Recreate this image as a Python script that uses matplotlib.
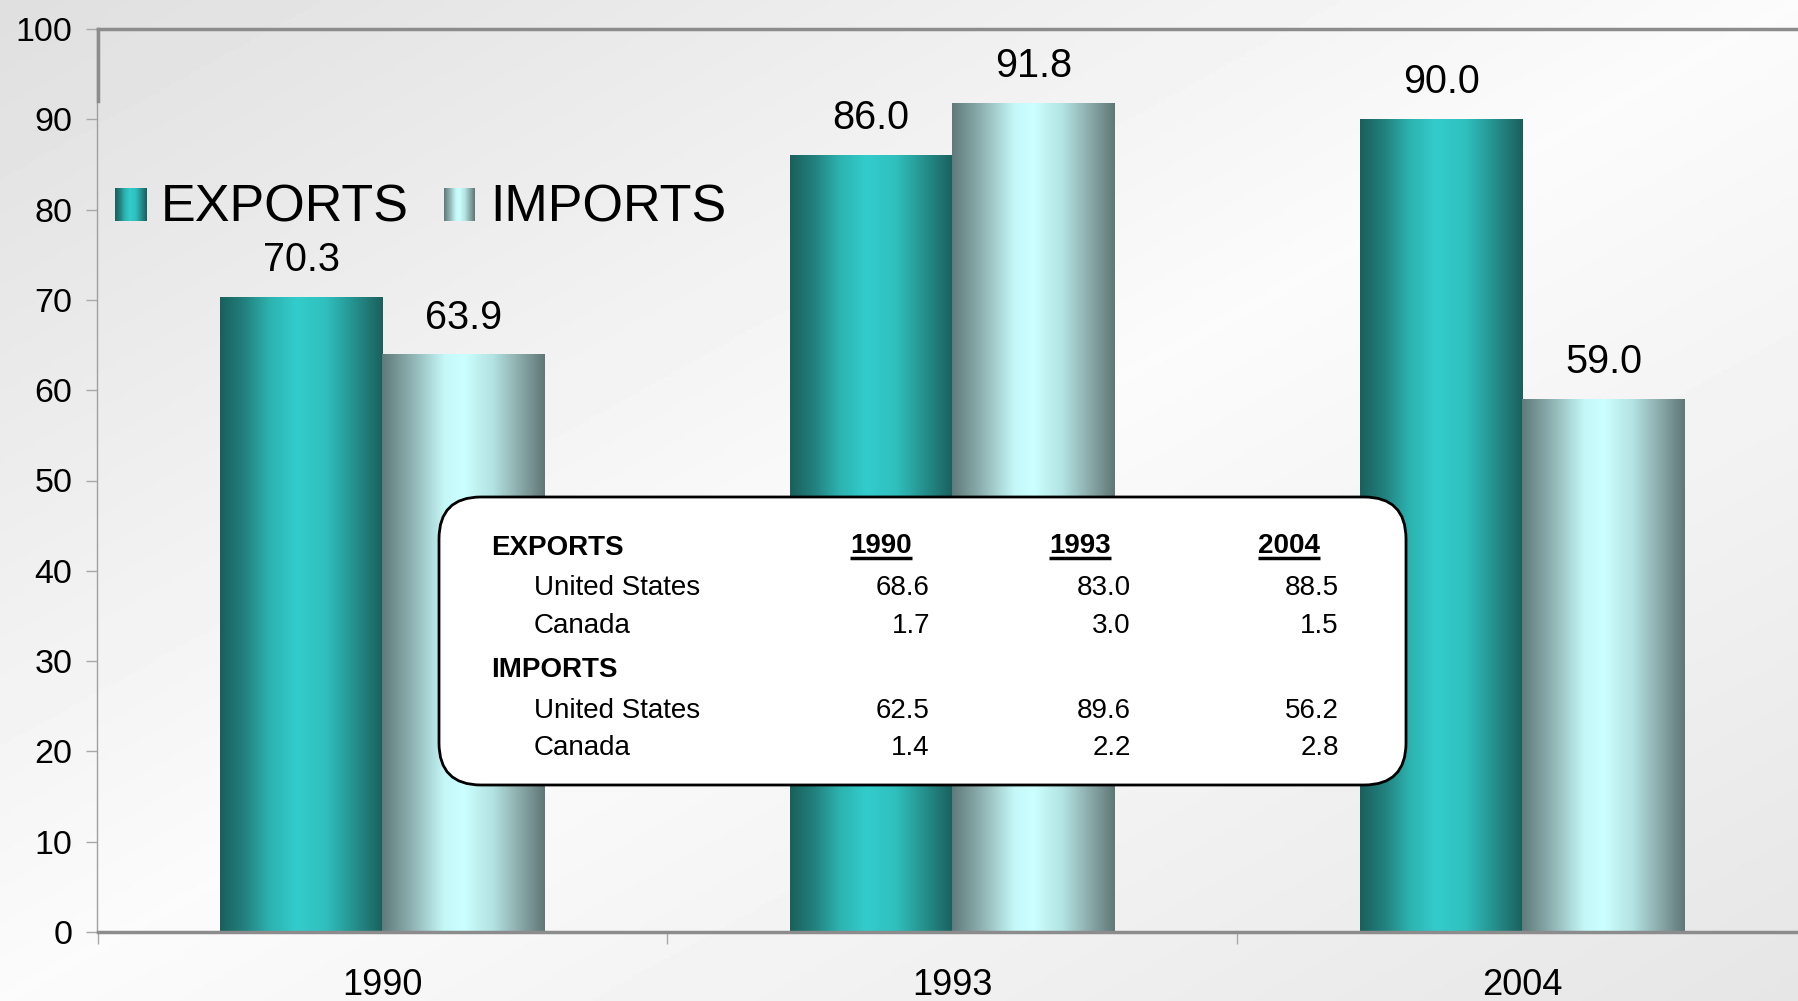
"""Exports vs imports (1990 / 1993 / 2004) as shaded bars, with a country breakdown table."""
import matplotlib
matplotlib.use("Agg")
import matplotlib.pyplot as plt
import numpy as np
from matplotlib import font_manager
from matplotlib.colors import LinearSegmentedColormap
from matplotlib.patches import FancyBboxPatch

YEARS = ["1990", "1993", "2004"]
EXPORTS = [70.3, 86.0, 90.0]
IMPORTS = [63.9, 91.8, 59.0]
Y_TICKS = [0, 10, 20, 30, 40, 50, 60, 70, 80, 90, 100]

# breakdown table
EXP_US = [68.6, 83.0, 88.5]
EXP_CA = [1.7, 3.0, 1.5]
IMP_US = [62.5, 89.6, 56.2]
IMP_CA = [1.4, 2.2, 2.8]

W, H = 1799, 1001

EXP_CMAP = LinearSegmentedColormap.from_list("exp", [
    (0.0, "#19605c"), (0.15, "#22817e"), (0.3, "#2cb2af"), (0.47, "#33cccc"),
    (0.65, "#2fc0be"), (0.82, "#25928f"), (1.0, "#1a605d")])
IMP_CMAP = LinearSegmentedColormap.from_list("imp", [
    (0.0, "#5f7a7a"), (0.18, "#8fb1b1"), (0.38, "#c4f7f7"), (0.5, "#ccffff"),
    (0.68, "#b3e3e3"), (0.85, "#8aa9a9"), (1.0, "#5f7777")])


def pick_table_font():
    names = {f.name for f in font_manager.fontManager.ttflist}
    if "Liberation Sans Narrow" in names:
        return "Liberation Sans Narrow", 24
    return "Liberation Sans", 20


def shade(ax, bars, cmap, zorder=2):
    grad = np.linspace(0, 1, 256)[np.newaxis, :]
    for b in bars:
        x0, h = b.get_x(), b.get_height()
        ax.imshow(grad, cmap=cmap, aspect="auto", zorder=zorder,
                  extent=[x0, x0 + b.get_width(), 0, h])


def main() -> None:
    plt.rcParams["font.family"] = ["Liberation Sans", "DejaVu Sans"]
    fig = plt.figure(figsize=(W / 100, H / 100), dpi=100)

    # ---- diagonal grey background ----
    bg = fig.add_axes([0, 0, 1, 1], zorder=-10)
    yy, xx = np.mgrid[0:1:300j, 0:1:540j]
    t = (xx + yy) / 2
    v = np.where(t < 0.5, 0.875 + 0.11 * (2 * t), 0.985 - 0.085 * (2 * t - 1))
    bg.imshow(v, cmap="gray", vmin=0, vmax=1, aspect="auto", extent=[0, 1, 0, 1])
    bg.axis("off")

    # ---- bars ----
    ax = fig.add_axes([97.5 / W, 69 / H, 1710 / W, 903 / H])
    ax.set_facecolor("none")
    x = np.arange(len(YEARS))
    w = 1 / 3.5
    ex_bars = ax.bar(x - w / 2, EXPORTS, w, color="none", zorder=2)
    im_bars = ax.bar(x + w / 2, IMPORTS, w, color="none", zorder=2)
    shade(ax, ex_bars, EXP_CMAP)
    shade(ax, im_bars, IMP_CMAP)
    for bars in (ex_bars, im_bars):
        for b in bars:
            ax.annotate(f"{b.get_height():.1f}", (b.get_x() + b.get_width() / 2, b.get_height()),
                        xytext=(0, 18.7), textcoords="offset points",
                        ha="center", va="baseline", fontsize=28.5)

    ax.set_xlim(-0.5, 2.5)
    ax.set_ylim(0, 100)
    ax.set_yticks(Y_TICKS)
    ax.tick_params(axis="y", length=8, width=1, color="#a8a8a8", pad=10, labelsize=24.5)
    ax.set_xticks(x, YEARS)
    ax.set_xticks([-0.5, 0.5, 1.5, 2.5], minor=True)
    ax.tick_params(axis="x", which="major", length=0, pad=26, labelsize=26)
    ax.tick_params(axis="x", which="minor", length=8.6, width=1, color="#a8a8a8")
    ax.spines["right"].set_visible(False)
    ax.spines["left"].set_color("#a0a0a0")
    ax.spines["left"].set_linewidth(1)
    for s in ("top", "bottom"):
        ax.spines[s].set_color("#8c8c8c")
        ax.spines[s].set_linewidth(2.5)
    ax.plot([-0.5, -0.5], [92, 100], color="#8c8c8c", lw=2.5, clip_on=False, zorder=3)

    # ---- overlay in pixel coords: legend + table ----
    ov = fig.add_axes([0, 0, 1, 1], zorder=5)
    ov.set_facecolor("none")
    ov.axis("off")
    grad = np.linspace(0, 1, 64)[np.newaxis, :]
    ov.imshow(grad, cmap=EXP_CMAP, aspect="auto", extent=[115, 147, 221, 188])
    ov.imshow(grad, cmap=IMP_CMAP, aspect="auto", extent=[444, 475, 221, 188])
    ov.set_xlim(0, W)
    ov.set_ylim(H, 0)
    ov.text(161, 222, "EXPORTS", fontsize=37.5, va="baseline")
    ov.text(490, 222, "IMPORTS", fontsize=37.5, va="baseline")

    ov.add_patch(FancyBboxPatch((439, 497), 1406 - 439, 785 - 497,
                                boxstyle="round,pad=0,rounding_size=42",
                                fc="white", ec="black", lw=2))
    fam, fs = pick_table_font()
    head_x = [881, 1080, 1289]
    val_x = [930, 1131, 1339]
    ov.text(491, 555, "EXPORTS", family=fam, fontsize=fs, weight="bold", va="baseline")
    ov.text(491, 677, "IMPORTS", family=fam, fontsize=fs, weight="bold", va="baseline")
    heads = [ov.text(hx, 553, yr, family=fam, fontsize=fs, weight="bold",
                     ha="center", va="baseline") for hx, yr in zip(head_x, YEARS)]
    rows = [("United States", EXP_US, 595), ("Canada", EXP_CA, 633),
            ("United States", IMP_US, 718), ("Canada", IMP_CA, 755)]
    for name, vals, yb in rows:
        ov.text(534, yb, name, family=fam, fontsize=fs, va="baseline")
        for vx, val in zip(val_x, vals):
            ov.text(vx, yb, f"{val:.1f}", family=fam, fontsize=fs, ha="right", va="baseline")

    # underline the year headers to their own text width
    fig.canvas.draw()
    renderer = fig.canvas.get_renderer()
    for t_ in heads:
        bb = t_.get_window_extent(renderer).transformed(ov.transData.inverted())
        ov.plot([bb.x0, bb.x1], [558, 558], color="black", lw=2.5, solid_capstyle="butt")
    ov.set_xlim(0, W)
    ov.set_ylim(H, 0)

    fig.savefig("out.png", dpi=100)
    plt.close(fig)


if __name__ == "__main__":
    main()
